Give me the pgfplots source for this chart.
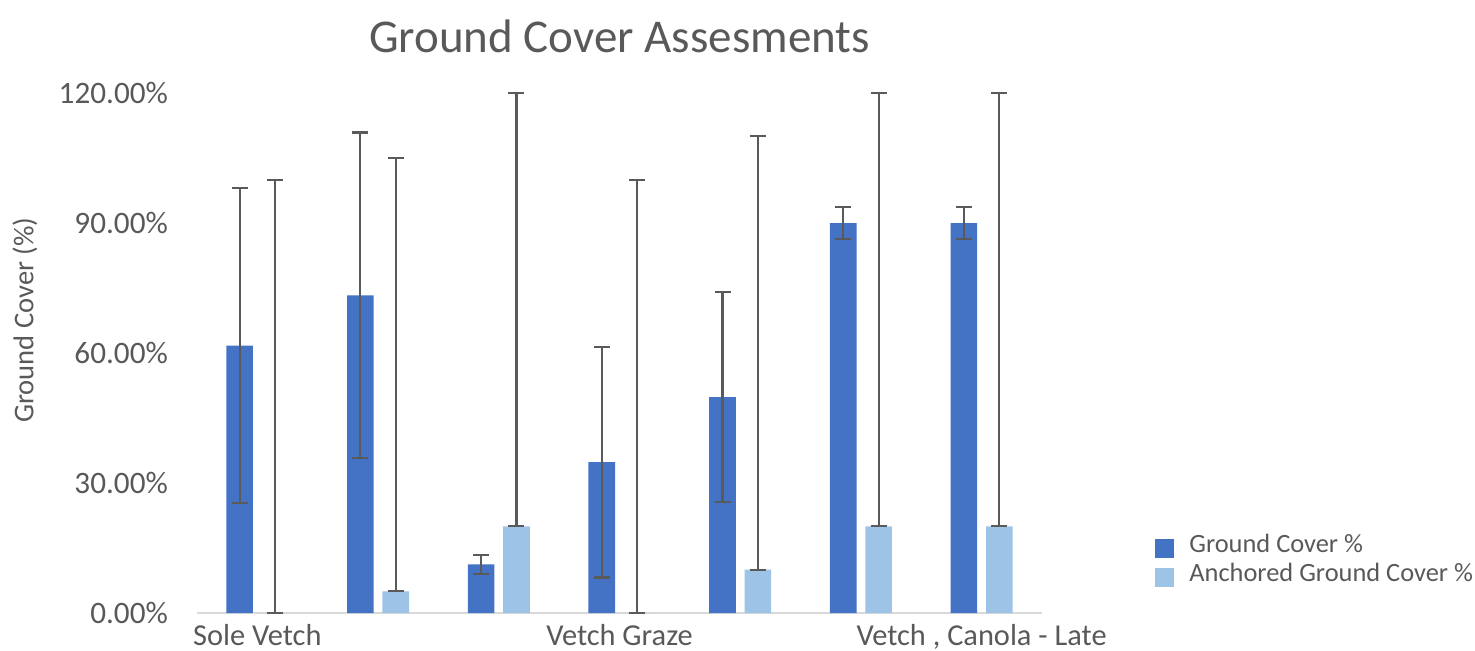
\documentclass[border=0pt]{standalone}
\usepackage{fontspec}
\setmainfont{Carlito}
\usepackage{pgfplots}
\pgfplotsset{compat=1.18}
\definecolor{darkb}{HTML}{4472C4}
\definecolor{lightb}{HTML}{9DC3E6}
\definecolor{txt}{HTML}{595959}
\definecolor{axl}{HTML}{D9D9D9}
\definecolor{errc}{HTML}{5A5A5A}
\begin{document}
\begin{tikzpicture}
\path[use as bounding box] (-98.5pt,-18.5pt) rectangle (639pt,306.5pt);
\begin{axis}[
 at={(0,0)}, anchor=south west,
 scale only axis, width=422.5pt, height=260pt,
 xmin=-0.5, xmax=6.5, ymin=0, ymax=120,
 axis x line*=bottom, axis y line*=left,
 y axis line style={draw=none},
 x axis line style={axl, line width=1pt},
 major tick length=0pt,
 ytick={0,30,60,90,120},
 yticklabel={\pgfmathprintnumber[fixed,fixed zerofill,precision=2]{\tick}\%},
 /pgf/number format/assume math mode=true,
 yticklabel style={font=\fontsize{15.6}{18}\selectfont, text=txt, xshift=-11pt},
 xtick={0,3,6},
 xticklabels={Sole Vetch, Vetch Graze, {Vetch , Canola - Late}},
 xticklabel style={font=\fontsize{15.2}{18}\selectfont, text=txt, yshift=-2pt},
 ylabel={Ground Cover (\%)},
 every axis y label/.style={at={(axis description cs:-0.2036,0.563)}, rotate=90, anchor=center, font=\fontsize{14.3}{17}\selectfont, text=txt},
 ybar, bar width=13.3pt,
 legend style={draw=none, fill=none, at={(1.1337,0.097)}, anchor=west,
   inner sep=0pt, row sep=0pt,
   nodes={inner sep=0pt, anchor=west, text height=9.5pt, text depth=5pt, font=\fontsize{13.2}{15}\selectfont, text=txt},
   /tikz/every odd column/.append style={column sep=7.5pt}},
 legend cell align=left,
 legend image code/.code={\fill[#1] (0pt,-4.75pt) rectangle (9.5pt,4.75pt);},
 error bars/error bar style={errc, line width=1.1pt},
 error bars/error mark options={errc, rotate=90, mark size=4pt, line width=1.1pt},
 clip=false,
]
\addplot[fill=darkb, draw=none, bar shift=-8.85pt,
  error bars/.cd, y dir=both, y explicit]
 coordinates {
 (0,61.7) +- (0,36.4)
 (1,73.3) +- (0,37.6)
 (2,11.2) +- (0,2.2)
 (3,34.8) +- (0,26.6)
 (4,49.8) +- (0,24.2)
 (5,90.0) +- (0,3.7)
 (6,90.0) +- (0,3.7)
 };
\addlegendentry{Ground Cover \%}
\addplot[fill=lightb, draw=none, bar shift=8.85pt,
  error bars/.cd, y dir=both, y explicit]
 coordinates {
 (0,0) += (0,100) -= (0,0)
 (1,5) += (0,100) -= (0,0)
 (2,20) += (0,100) -= (0,0)
 (3,0) += (0,100) -= (0,0)
 (4,10) += (0,100) -= (0,0)
 (5,20) += (0,100) -= (0,0)
 (6,20) += (0,100) -= (0,0)
 };
\addlegendentry{Anchored Ground Cover \%}
\node[font=\fontsize{23.5}{28}\selectfont, text=txt] at (rel axis cs:0.5,1.108) {Ground Cover Assesments};
\end{axis}
\end{tikzpicture}
\end{document}
